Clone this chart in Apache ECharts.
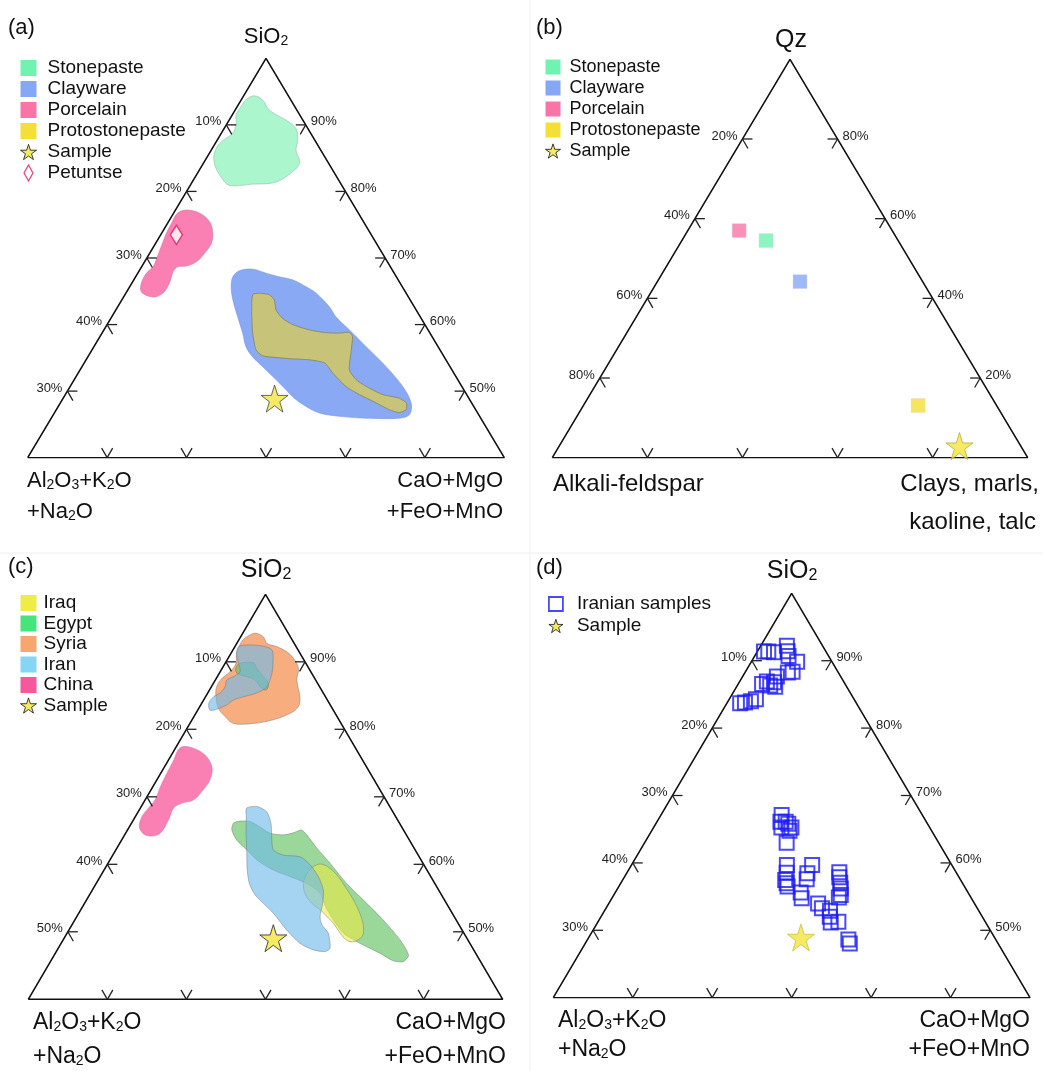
<!DOCTYPE html>
<html>
<head>
<meta charset="utf-8">
<script src="https://cdn.jsdelivr.net/npm/echarts@6/dist/echarts.min.js"></script>
<style>
  html, body { margin: 0; padding: 0; background: #fff; }
  #chart { width: 1043px; height: 1071px; }
</style>
</head>
<body>
<div id="chart"></div>
<script>
// all points are ternary values [top %, right %] (left = 100 - top - right)
const stonepasteA = [[90.6,2.3],[89.5,4.6],[87,7.2],[84.5,12],[82.4,15.1],[79.5,16.9],[77,17.8],[73.7,20.2],[70.3,19],[68.8,17],[68.5,12.9],[68.2,8.2],[70.3,5.4],[72.8,3],[75.3,1.4],[77.8,0.8],[79.5,1.3],[81.2,2.4],[83.7,1.9],[85.8,0.8],[87.8,0.8],[89.7,1]]
const claywareA = [[45.3,20.4],[46.8,21],[47.2,23.6],[46.2,26.9],[45.3,30.1],[44.5,33.4],[42.8,37],[41.2,39.9],[37.8,44.4],[35.3,47],[32,51.5],[27.8,57.1],[22.8,63.8],[17.8,69.8],[13.7,73.6],[10.8,74.7],[9.9,73],[9.9,66],[10.3,60.9],[11.2,55.6],[13.3,51.1],[15.3,47.9],[17,45.7],[20.3,41.3],[22.8,37.9],[25.3,34.5],[27.8,31.9],[31.2,29.5],[35.3,26.4],[39.5,23.3],[42.8,21.3]]
const protoA = [[40.8,26.8],[41.2,28],[40.8,30.3],[39.5,32],[37,33.6],[34.9,36],[33.3,39],[32,43.1],[31.3,46.9],[31.2,49.8],[31.4,51.8],[30.3,53],[27,54.4],[22,56.5],[19.5,59.2],[17.4,63],[15.8,66.6],[14.9,70.5],[13.7,72.6],[12,73.4],[11.3,72.3],[12,69.9],[13.7,66.3],[15.8,61.7],[17.8,57.9],[21.2,53.4],[23.7,50.5],[24.5,46.9],[24.8,42.5],[25.5,36.6],[27,34.4],[31.2,31.6],[36.2,28.9]]
const porcelainA = [[61.2,0.8],[62,2.3],[61.2,5.5],[59.1,8.6],[56.6,10.5],[53.7,11.7],[51.2,11.5],[49.1,10.9],[48,9.3],[47.8,7.6],[46.6,7.2],[44.1,7.8],[41.6,7.9],[40.3,6.8],[40.5,5],[41.6,3],[43.7,2],[46.2,1.8],[47.8,2.4],[49.5,2.2],[52.8,1.6],[56.2,1],[59.1,0.8]]
const petuntseA = [[55.8,3.3]]
const sampleA = [[14.8,44.4]]

const porcelainB = [[57,10.8]]
const stonepasteB = [[54.5,17.7]]
const claywareB = [[44.2,30]]
const protoB = [[13.1,70.4]]
const sampleB = [[2.9,84.2]]

const syriaC = [[89.5,1.3],[90.4,2.6],[89.5,4.8],[87.9,6.3],[87.1,8.8],[85.8,11.6],[84.2,13.8],[81.7,16.1],[78.8,17.2],[74.7,19.9],[72.3,20.8],[70.6,19.9],[69,17.1],[68.1,13.4],[68.1,9.2],[69.8,6.6],[71.9,4.1],[74.7,2.2],[77.2,1.1],[79.3,1.2],[80.9,2.1],[83,2.3],[85.4,1.2],[88.3,0.8]]
const iranTopC = [[87.1,0.8],[87.5,2.3],[87.2,5.9],[86.3,8.2],[83.8,9.7],[80.5,11.1],[77.2,11.7],[75.6,10.3],[74.7,8],[73.9,6.3],[72.7,5.5],[71.6,3.9],[71.4,2.6],[73.1,1.5],[74.7,1.7],[75.6,2.6],[77.2,2.9],[78.8,2.4],[79.7,3.4],[80.9,4.2],[83,2.8],[85.4,1.2]]
const egyptTopC = [[80.9,3.3],[82.6,2.8],[83.2,4.1],[83,6.1],[81.7,7.3],[79.7,9.7],[78,11.6],[76.4,12],[76.8,10.8],[78.8,8.4],[79.7,6.2],[80.1,4.6]]
const chinaC = [[62.4,1.5],[62,3.8],[60.3,7.1],[57.4,10],[54.2,11.2],[51.3,10.9],[49.2,10.2],[48.4,8.1],[47.2,7],[44.3,7.4],[41,7.3],[40.3,5.9],[40.8,3.9],[42.6,2.1],[45.1,1.4],[47.2,1.7],[49.2,2.1],[52.5,1.6],[55.8,1.3],[59.1,1.1],[61.6,0.8]]
const egyptC = [[43.5,21.5],[44,22.6],[43.9,24.8],[42.6,27.5],[41,30.5],[40.6,33.5],[41.1,35.3],[41.8,36.7],[40.6,38.4],[37.3,42.2],[33.6,46.8],[28.6,52.8],[24.5,58.4],[19.6,65],[14.7,71],[10.9,74.7],[9.3,74.4],[9.5,72.2],[11.4,68.4],[13.4,63.9],[14.7,61.2],[16.3,58.3],[19.6,54.5],[22.9,51.2],[26.2,48.4],[28.6,44.4],[30.3,40],[31.9,35.7],[34.4,31],[36.9,27.6],[39.3,24.3],[41.8,22]]
const iranC = [[47.2,22.4],[47.6,24.4],[46.3,27.1],[43.5,29.4],[40.2,31.2],[36.9,33.2],[35.6,36],[35.2,39.7],[33.2,42.8],[30.3,46],[27,48.7],[23.7,50.2],[20.4,51.3],[18.4,52.7],[16.3,55.1],[12.6,57.3],[11.8,56.7],[12.2,54],[13.8,50.4],[17.1,45.9],[21.2,41.1],[23.7,37.7],[25.8,34.9],[28.6,32.3],[31.9,30.2],[36.1,28],[41,25.4],[45.1,23.4]]
const iraqC = [[32.7,43.7],[33.4,44.8],[32.7,46.8],[30.7,49.7],[27.8,52.9],[24.5,56.3],[21.2,59.3],[17.9,61.7],[15.5,62.6],[14.2,61.4],[14.6,59.8],[16.3,57.6],[18.8,54.9],[20.8,52.2],[22.1,50.5],[23.7,47.9],[26.2,45.2],[28.6,43.7],[31.1,43.2]]
const sampleC = [[15.1,44.1]]

const iranianD = [[85.6,2.3],[85.4,3.6],[87,5.5],[85.7,6.3],[84.5,7.1],[83.1,9.6],[80.6,9.9],[80.4,9],[79.4,7.2],[78,7.3],[76.9,8.1],[77.2,6.9],[78.2,5.7],[77.6,5],[73.8,5.6],[73.3,4.8],[73,3.7],[72.8,2.8],[85.6,1.4],
  [45.2,25.3],[43.5,25.9],[42.1,26.8],[43.5,27],[43,27.8],[42.1,28.9],[41.3,28.9],[38.3,29.8],[32.8,32.6],[30.9,33.5],[29.1,34.1],[27.5,35.4],[32.8,37.9],[30.8,37.9],[29.3,38.5],[31,44.5],[29.8,45.1],[28.4,46],[27,46.8],[25.4,47.6],[24.8,47.5],[26,38.9],[24.6,39.8],[23.3,43.9],[22.1,45.3],[21.5,47.3],[20,48],[18.6,48.9],[18.8,50.4],[14.4,54.7],[13.4,55.5],[28.3,34.8]]
const sampleD = [[14.9,44.5]]

// corners of the triangle: left, right, top
const corners = [[0,0],[0,100],[100,0],[0,0]]
// tick positions along a side (percent of side, from the top corner down)
const ticksSix = [83.33, 66.67, 50, 33.33, 16.67]
const ticksFive = [80, 60, 40, 20]
const leftLabelsA = ['10%', '20%', '30%', '40%', '30%']
const rightLabelsA = ['90%', '80%', '70%', '60%', '50%']
const leftLabelsB = ['20%', '40%', '60%', '80%']
const rightLabelsB = ['80%', '60%', '40%', '20%']
const leftLabelsC = ['10%', '20%', '30%', '40%', '50%']
const rightLabelsC = ['90%', '80%', '70%', '60%', '50%']
const leftLabelsD = ['10%', '20%', '30%', '40%', '30%']
const rightLabelsD = ['90%', '80%', '70%', '60%', '50%']

const FF = '"Liberation Sans", Arial, sans-serif'
const STAR = 'path://M50 0 L61.23 34.55 L97.55 34.55 L68.16 55.9 L79.39 90.45 L50 69.1 L20.61 90.45 L31.84 55.9 L2.45 34.55 L38.77 34.55 Z'
const colors = {
  Stonepaste: '#6ff3b1', Clayware: '#86a7f6', Porcelain: '#fa74a8', Protostonepaste: '#f4df36',
  Iraq: '#eded45', Egypt: '#45e57b', Syria: '#f8a66f', Iran: '#85d5f4', China: '#f7589a'
}

// ternary -> x along base, y = height
function toXY(p) {
  return [p[1] + p[0] / 2, p[0]]
}

function area(name, pts, gi, fill, stroke, smooth) {
  const xy = pts.map(toXY)
  return {
    type: 'custom', name: name, xAxisIndex: gi, yAxisIndex: gi, z: 2, silent: true,
    data: xy,
    itemStyle: { color: colors[name] },
    renderItem: function (params, api) {
      if (params.dataIndex !== 0) return null
      return {
        type: 'polygon',
        shape: { points: xy.map(p => api.coord(p)), smooth: smooth },
        style: { fill: fill, stroke: stroke, lineWidth: 1 }
      }
    }
  }
}

function points(name, arr, gi, symbol, size, style) {
  return {
    type: 'scatter', name: name, xAxisIndex: gi, yAxisIndex: gi, z: 6, silent: true,
    data: arr.map(toXY), symbol: symbol, symbolSize: size, itemStyle: style
  }
}

function frame(gi) {
  return {
    type: 'line', xAxisIndex: gi, yAxisIndex: gi, z: 4, silent: true,
    data: corners.map(toXY), symbol: 'none',
    lineStyle: { color: '#111', width: 1.6 }
  }
}

function ticks(gi, pos, leftLabels, rightLabels) {
  return {
    type: 'custom', xAxisIndex: gi, yAxisIndex: gi, z: 5, silent: true,
    data: pos.map((t, i) => [t, i]),
    renderItem: function (params, api) {
      const t = api.value(0), i = api.value(1)
      const L = api.coord(toXY([t, 0]))
      const R = api.coord(toXY([t, 100 - t]))
      const B = api.coord(toXY([0, t]))
      const ln = (a, b) => ({ type: 'line', shape: { x1: a[0], y1: a[1], x2: b[0], y2: b[1] }, style: { stroke: '#222', lineWidth: 1.3 } })
      return {
        type: 'group',
        children: [
          ln(L, [L[0] + 10, L[1]]), ln(L, [L[0] + 5.5, L[1] + 9.5]),
          ln(R, [R[0] - 10, R[1]]), ln(R, [R[0] - 5.5, R[1] + 9.5]),
          ln(B, [B[0] - 5.5, B[1] - 9.5]), ln(B, [B[0] + 5.5, B[1] - 9.5]),
          { type: 'text', x: L[0] - 5, y: L[1] - 3, style: { text: leftLabels[i], font: '13px ' + FF, fill: '#222', align: 'right', verticalAlign: 'middle' } },
          { type: 'text', x: R[0] + 5, y: R[1] - 3, style: { text: rightLabels[i], font: '13px ' + FF, fill: '#222', align: 'left', verticalAlign: 'middle' } }
        ]
      }
    }
  }
}

function legend(left, top, size, pad, gap, iw, items) {
  return {
    orient: 'vertical', left: left, top: top, itemWidth: iw, itemHeight: iw, itemGap: gap,
    selectedMode: false,
    textStyle: { fontSize: size, fontFamily: FF, color: '#111', padding: [0, 0, 0, pad], lineHeight: 20 },
    data: items
  }
}

function label(x, y, text, size, align) {
  return {
    type: 'text', x: x, y: y, silent: true,
    style: {
      text: text, font: size + 'px ' + FF, fill: '#111', align: align || 'left', verticalAlign: 'middle',
      rich: {
        n: { fontSize: size, fontFamily: FF, fill: '#111' },
        s: { fontSize: Math.round(size * 0.62), fontFamily: FF, fill: '#111', verticalAlign: 'bottom' }
      }
    }
  }
}

const sio2 = '{n|SiO}{s|2}'
const alk1 = '{n|Al}{s|2}{n|O}{s|3}{n|+K}{s|2}{n|O}'
const alk2 = '{n|+Na}{s|2}{n|O}'

const grids = [
  { left: 27.7, top: 58.3, width: 476.6, height: 399.4 },
  { left: 552.3, top: 59.3, width: 475.4, height: 398.4 },
  { left: 28.3, top: 594.3, width: 474.4, height: 405 },
  { left: 553.3, top: 593.3, width: 476.7, height: 404.4 }
]

const starStyle = (border) => ({ color: '#f4e43c', borderColor: border, borderWidth: 1 })
const legendStar = { name: 'Sample', icon: STAR, itemStyle: { color: '#f4e43c', borderColor: '#111', borderWidth: 1 } }
const greyLine = 'rgba(110,110,110,0.45)'

const option = {
  animation: false,
  backgroundColor: '#fff',
  grid: grids,
  xAxis: grids.map((g, i) => ({ type: 'value', gridIndex: i, min: 0, max: 100, show: false })),
  yAxis: grids.map((g, i) => ({ type: 'value', gridIndex: i, min: 0, max: 100, show: false })),
  legend: [
    legend(15, 53, 19, 6, 1, 16, [
      { name: 'Stonepaste', icon: 'rect' }, { name: 'Clayware', icon: 'rect' },
      { name: 'Porcelain', icon: 'rect' }, { name: 'Protostonepaste', icon: 'rect' },
      legendStar,
      { name: 'Petuntse', icon: 'path://M5 0 L10 9 L5 18 L0 9 Z', itemStyle: { color: '#ffffff', borderColor: '#e8175d', borderWidth: 1.3 } }
    ]),
    legend(540, 52, 18, 4, 1, 15, [
      { name: 'Stonepaste', icon: 'rect' }, { name: 'Clayware', icon: 'rect' },
      { name: 'Porcelain', icon: 'rect' }, { name: 'Protostonepaste', icon: 'rect' },
      legendStar
    ]),
    legend(15, 588, 19, 2, 0.5, 16, [
      { name: 'Iraq', icon: 'rect' }, { name: 'Egypt', icon: 'rect' }, { name: 'Syria', icon: 'rect' },
      { name: 'Iran', icon: 'rect' }, { name: 'China', icon: 'rect' }, legendStar
    ]),
    legend(543, 589, 19, 9, 2, 14, [
      { name: 'Iranian samples', icon: 'rect', itemStyle: { color: 'rgba(255,255,255,0)', borderColor: '#1c1cf2', borderWidth: 1.8 } },
      legendStar
    ])
  ],
  graphic: [
    { type: 'line', silent: true, shape: { x1: 530, y1: 0, x2: 530, y2: 1071 }, style: { stroke: '#eeeeee', lineWidth: 1 } },
    { type: 'line', silent: true, shape: { x1: 0, y1: 553, x2: 1043, y2: 553 }, style: { stroke: '#eeeeee', lineWidth: 1 } },
    label(8, 28, '(a)', 22), label(266, 37, sio2, 22, 'center'),
    label(27, 481, alk1, 22), label(27, 512, alk2, 22),
    label(503, 481, 'CaO+MgO', 22, 'right'), label(503, 512, '+FeO+MnO', 22, 'right'),
    label(536, 28, '(b)', 22), label(791, 40, 'Qz', 25, 'center'),
    label(553, 484, 'Alkali-feldspar', 24), label(1039, 484, 'Clays, marls,', 24, 'right'),
    label(1036, 522, 'kaoline, talc', 24, 'right'),
    label(8, 567, '(c)', 22), label(266, 570, sio2, 25, 'center'),
    label(33, 1023, alk1, 23), label(33, 1057, alk2, 23),
    label(506, 1023, 'CaO+MgO', 23, 'right'), label(506, 1057, '+FeO+MnO', 23, 'right'),
    label(536, 568, '(d)', 22), label(792, 571, sio2, 25, 'center'),
    label(558, 1021, alk1, 23), label(558, 1050, alk2, 23),
    label(1030, 1021, 'CaO+MgO', 23, 'right'), label(1030, 1050, '+FeO+MnO', 23, 'right')
  ],
  series: [
    // (a)
    area('Stonepaste', stonepasteA, 0, 'rgba(120,240,175,0.62)', 'rgba(150,190,170,0.6)', 0.35),
    area('Clayware', claywareA, 0, '#89a9f5', 'rgba(120,150,230,0.6)', 0.35),
    area('Porcelain', porcelainA, 0, '#fa80b3', 'rgba(220,110,160,0.6)', 0.35),
    area('Protostonepaste', protoA, 0, 'rgba(240,215,40,0.6)', '#8e8c6a', 0.2),
    frame(0), ticks(0, ticksSix, leftLabelsA, rightLabelsA),
    points('Sample', sampleA, 0, STAR, 27, starStyle('#444')),
    points('Petuntse', petuntseA, 0, 'diamond', [12, 19], { color: '#ffffff', borderColor: '#e8175d', borderWidth: 1.5 }),
    // (b)
    frame(1), ticks(1, ticksFive, leftLabelsB, rightLabelsB),
    points('Porcelain', porcelainB, 1, 'rect', 14, { color: colors.Porcelain, borderColor: '#ddd', borderWidth: 0.5 }),
    points('Stonepaste', stonepasteB, 1, 'rect', 14, { color: colors.Stonepaste, borderColor: '#ddd', borderWidth: 0.5 }),
    points('Clayware', claywareB, 1, 'rect', 14, { color: colors.Clayware, borderColor: '#ddd', borderWidth: 0.5 }),
    points('Protostonepaste', protoB, 1, 'rect', 14, { color: colors.Protostonepaste, borderColor: '#ddd', borderWidth: 0.5 }),
    points('Sample', sampleB, 1, STAR, 27, starStyle('#b8ae3a')),
    // (c)
    area('Syria', syriaC, 2, 'rgba(246,150,90,0.78)', greyLine, 0.35),
    area('Egypt', egyptTopC, 2, 'rgba(100,195,100,0.65)', greyLine, 0.35),
    area('Iran', iranTopC, 2, 'rgba(110,185,235,0.62)', greyLine, 0.3),
    area('China', chinaC, 2, '#fa80b3', 'rgba(220,110,160,0.5)', 0.35),
    area('Egypt', egyptC, 2, 'rgba(100,195,100,0.65)', greyLine, 0.25),
    area('Iraq', iraqC, 2, 'rgba(235,235,70,0.6)', greyLine, 0.35),
    area('Iran', iranC, 2, 'rgba(110,185,235,0.62)', greyLine, 0.25),
    frame(2), ticks(2, ticksSix, leftLabelsC, rightLabelsC),
    points('Sample', sampleC, 2, STAR, 27, starStyle('#222')),
    // (d)
    frame(3), ticks(3, ticksSix, leftLabelsD, rightLabelsD),
    points('Iranian samples', iranianD, 3, 'rect', 14, { color: 'rgba(255,255,255,0)', borderColor: '#1c1cf2', borderWidth: 2 }),
    points('Sample', sampleD, 3, STAR, 27, starStyle('#c8c040'))
  ]
}

const myChart = echarts.init(document.getElementById('chart'))
myChart.setOption(option)
</script>
</body>
</html>
